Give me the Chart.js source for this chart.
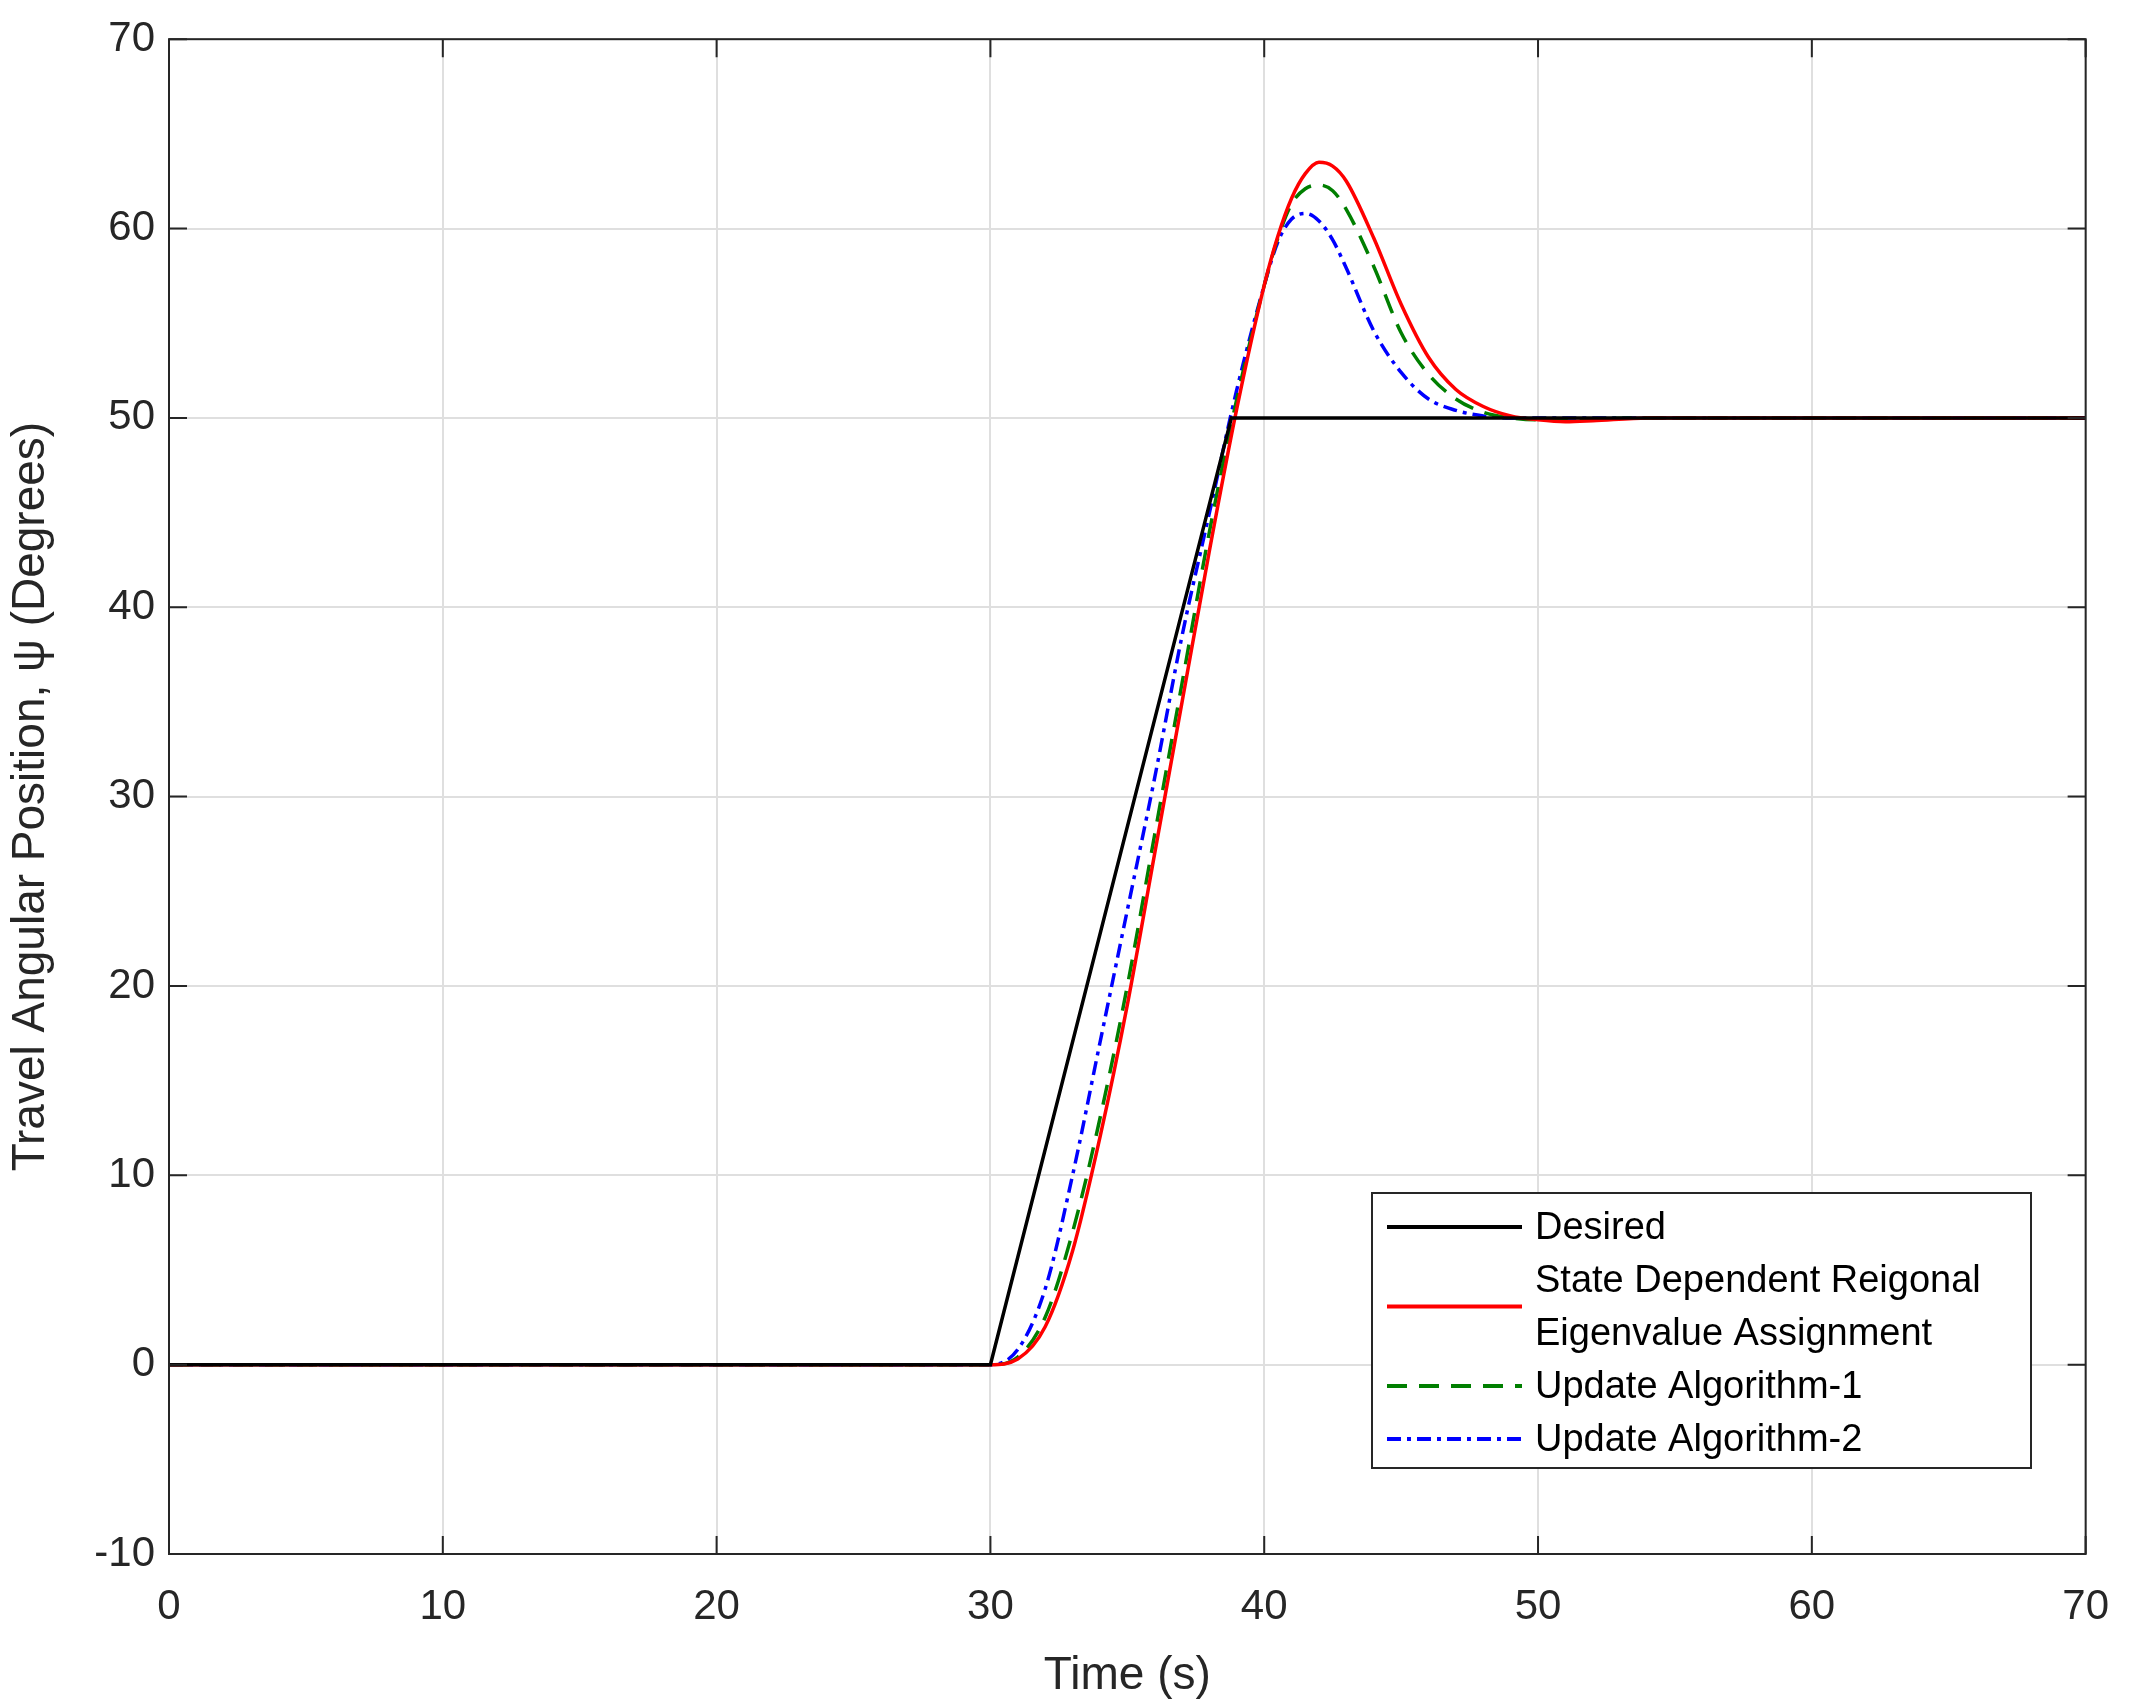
<!DOCTYPE html>
<html><head><meta charset="utf-8">
<script src="https://cdn.jsdelivr.net/npm/chart.js@4"></script>
<style>html,body{margin:0;padding:0;background:#fff}#w{width:2137px;height:1708px}</style>
</head><body><div id="w"><canvas id="c"></canvas></div>
<script>
const desiredT=[0,30,38.8,70];
const desiredV=[0,0,50,50];
const timeT=[0,30,31,32,33,34,35,36,37,38,39,40,40.5,41,41.5,42,42.5,43,44,45,46,47,48,49,50,51,52,54,60,70];
const sdreaV=[0,0,0.3,2,6,12,19,27,35,43,50.5,57,59.6,61.6,62.9,63.5,63.3,62.5,59.5,56,53.2,51.5,50.6,50.1,49.9,49.8,49.85,50,50,50];
const alg1V=[0,0,0.4,2.5,7,13,20,28,36,44,51,57,59.5,61.3,62.1,62.3,62,61,58,54.5,52.3,51,50.3,50,49.9,49.9,49.95,50,50,50];
const alg2V=[0,0,0.8,4,10,17,24,31,38.5,45,51.5,57,59.3,60.5,60.8,60.4,59.4,57.9,54.6,52.4,51,50.4,50.1,50,50,50,50,50,50,50];
const F='"Liberation Sans", Arial, sans-serif';
const xy=(t,v)=>t.map((x,i)=>({x,y:v[i]}));
const frame={id:'frame',afterDraw(ch){const {ctx,chartArea:a,scales:{x,y}}=ch;ctx.save();ctx.strokeStyle='#262626';ctx.lineWidth=2;ctx.strokeRect(a.left,a.top,a.right-a.left,a.bottom-a.top);
for(let v=0;v<=70;v+=10){const p=x.getPixelForValue(v);ctx.beginPath();ctx.moveTo(p,a.bottom);ctx.lineTo(p,a.bottom-18);ctx.moveTo(p,a.top);ctx.lineTo(p,a.top+18);ctx.stroke();}
for(let v=-10;v<=70;v+=10){const p=y.getPixelForValue(v);ctx.beginPath();ctx.moveTo(a.left,p);ctx.lineTo(a.left+18,p);ctx.moveTo(a.right,p);ctx.lineTo(a.right-18,p);ctx.stroke();}
const L=1372,T=1193,W=659,H=275;ctx.fillStyle='#fff';ctx.fillRect(L,T,W,H);ctx.lineWidth=2;ctx.strokeStyle='#262626';ctx.strokeRect(L,T,W,H);
ctx.font='38px '+F;ctx.fillStyle='#000';ctx.textBaseline='middle';
const step=53;const ds=ch.data.datasets;
[[0,0],[1,1.5],[2,3],[3,4]].forEach(([d,r])=>{const yy=T+34+r*step;ctx.strokeStyle=ds[d].borderColor;ctx.lineWidth=4;ctx.setLineDash(ds[d].borderDash||[]);ctx.beginPath();ctx.moveTo(L+15,yy);ctx.lineTo(L+150,yy);ctx.stroke();});
ctx.setLineDash([]);
['Desired','State Dependent Reigonal','Eigenvalue Assignment','Update Algorithm-1','Update Algorithm-2'].forEach((s,i)=>ctx.fillText(s,L+163,T+36+i*step));
ctx.restore();}};
new Chart(document.getElementById('c'),{type:'scatter',
data:{datasets:[
{label:'Desired',data:xy(desiredT,desiredV),borderColor:'#000',tension:0},
{label:'SDREA',data:xy(timeT,sdreaV),borderColor:'#ff0000',cubicInterpolationMode:'monotone'},
{label:'Alg1',data:xy(timeT,alg1V),borderColor:'#007f00',borderDash:[20,12],cubicInterpolationMode:'monotone'},
{label:'Alg2',data:xy(timeT,alg2V),borderColor:'#0000ff',borderDash:[14,6,4,6],cubicInterpolationMode:'monotone'}
].map(d=>Object.assign({showLine:true,pointRadius:0,borderWidth:3.5,fill:false},d))},
options:{responsive:true,maintainAspectRatio:false,animation:false,
layout:{padding:{top:34,right:42,left:0,bottom:0}},
plugins:{legend:{display:false},tooltip:{enabled:false}},
scales:{
x:{type:'linear',min:0,max:70,afterFit(s){s.height=154;},ticks:{stepSize:10,color:'#262626',font:{size:42,family:F},padding:28},grid:{color:'#dfdfdf',lineWidth:2,drawTicks:false},border:{display:false},
title:{display:true,text:'Time (s)',color:'#262626',font:{size:46,family:F},padding:{top:4}}},
y:{min:-10,max:70,afterFit(s){s.width=169;},ticks:{stepSize:10,color:'#262626',font:{size:42,family:F},padding:14},grid:{color:'#dfdfdf',lineWidth:2,drawTicks:false},border:{display:false},
title:{display:true,text:'Travel Angular Position, ψ (Degrees)',color:'#262626',font:{size:46,family:F},padding:{bottom:2}}}}},
plugins:[frame]});
</script></body></html>
